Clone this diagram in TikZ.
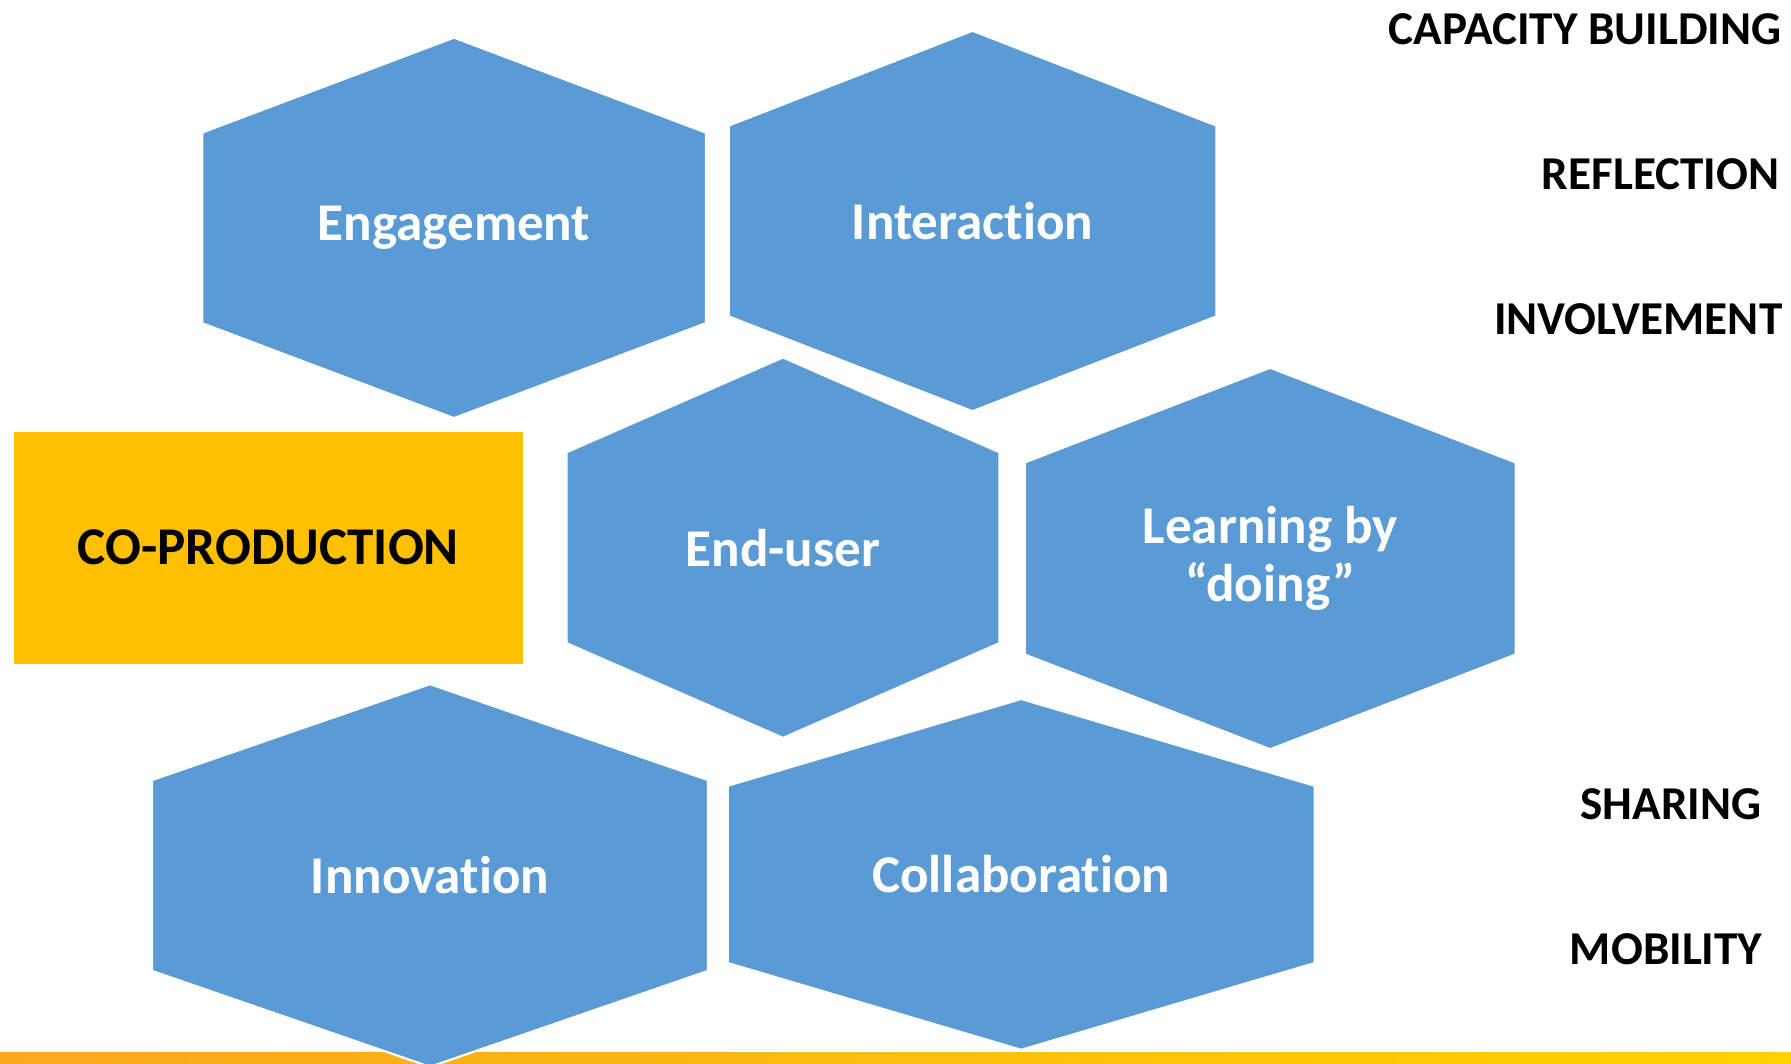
\documentclass[tikz,border=0pt]{standalone}
\usepackage{fontspec}
\setmainfont{Carlito}[Ligatures=NoCommon]
\usetikzlibrary{positioning}

\definecolor{hexblue}{HTML}{5B9BD5}
\definecolor{coyellow}{HTML}{FFC000}
\definecolor{bandorange}{HTML}{F8A81D}
\definecolor{bandmid}{HTML}{FEC30C}
\definecolor{bandyellow}{HTML}{FFD300}

% #1 name, #2 cx, #3 cy, #4 half width, #5 half side, #6 half tip, #7 text
\newcommand{\HexCell}[7]{%
    \filldraw[hexcell] (#2-#4,#3-#5) -- (#2,#3-#6) -- (#2+#4,#3-#5)
        -- (#2+#4,#3+#5) -- (#2,#3+#6) -- (#2-#4,#3+#5) -- cycle;
    \node[hexlabel] (#1) at (#2,#3) {#7};
}

\tikzset{
    hexcell/.style={fill=hexblue, draw=white, line width=0.6pt},
    hexlabel/.style={text=white, align=center, inner sep=0pt,
        font=\fontsize{15.1}{16.3}\selectfont\bfseries},
    sidelabel/.style={inner sep=0pt, font=\fontsize{13.4}{15}\selectfont\bfseries},
    coprod/.style={fill=coyellow, inner sep=0pt, minimum width=509.4*0.01cm,
        minimum height=231.8*0.01cm, font=\fontsize{15.1}{16.3}\selectfont\bfseries}
}

\begin{document}
\begin{tikzpicture}[x=0.01cm, y=-0.01cm]
            \useasboundingbox (0,0) rectangle (1791,1064);
            % bottom band
            \shade[left color=bandorange, middle color=bandmid, right color=bandyellow]
                (0,1052) rectangle (1791,1064);
            % hexagons
            \HexCell{engagement}{454}{227.9}{251.8}{95.3}{190.2}{Engagement}
            \HexCell{interaction}{972.5}{221}{243.8}{95.4}{190.2}{Interaction}
            \HexCell{enduser}{783}{547.7}{216.5}{95.4}{190.2}{End-user}
            \HexCell{learning}{1270.2}{558.5}{245.5}{96}{190.7}{Learning by\\``doing''}
            \HexCell{innovation}{430}{875.5}{278}{95.4}{191.3}{Innovation}
            \HexCell{collaboration}{1021.2}{874.4}{293.5}{88.6}{175.4}{Collaboration}
            % co-production box
            \node[coprod] (coproduction) at (268.4,547.7) {CO-PRODUCTION};
            % side labels
            \node[sidelabel, anchor=base east] (capacity) at (1782,45) {CAPACITY BUILDING};
            \node[sidelabel, anchor=base east] (reflection) at (1780,190) {REFLECTION};
            \node[sidelabel, anchor=base east] (involvement) at (1783,335) {INVOLVEMENT};
            \node[sidelabel, anchor=base east] (sharing) at (1762,819) {SHARING};
            \node[sidelabel, anchor=base east] (mobility) at (1763,964) {MOBILITY};
        \end{tikzpicture}
\end{document}
